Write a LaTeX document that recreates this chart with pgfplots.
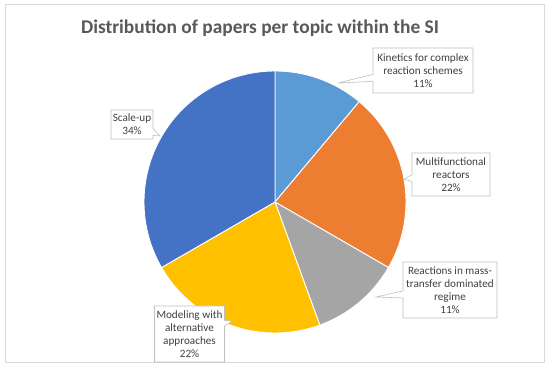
\documentclass[border=0pt]{standalone}
\usepackage{fontspec}
\setmainfont{Carlito}
\usepackage{pgfplots}
\usepackage{pgfplotstable}
\pgfplotsset{compat=1.18}
\usetikzlibrary{shapes.callouts}
\definecolor{cKin}{HTML}{5B9BD5}
\definecolor{cMul}{HTML}{ED7D31}
\definecolor{cRea}{HTML}{A5A5A5}
\definecolor{cMod}{HTML}{FFC000}
\definecolor{cSca}{HTML}{4472C4}
\definecolor{txt}{HTML}{404040}
\definecolor{ttl}{HTML}{595959}
\definecolor{frm}{HTML}{D9D9D9}
\definecolor{box}{HTML}{BFBFBF}

\tikzset{
  sector/.style={draw=white, line width=0.9pt, samples=90},
  lbl/.style={rectangle callout, draw=box, fill=white, line width=0.6pt,
    text=txt, font=\fontsize{11.2}{13.2}\selectfont, align=center,
    inner sep=1pt, callout pointer width=7pt}}

\pgfplotstableread{
topic count
Kinetics 1
Multifunctional 2
Reactions 1
Modeling 2
Scaleup 3
}\piedata
\pgfplotstablegetelem{0}{count}\of\piedata\let\vA\pgfplotsretval
\pgfplotstablegetelem{1}{count}\of\piedata\let\vB\pgfplotsretval
\pgfplotstablegetelem{2}{count}\of\piedata\let\vC\pgfplotsretval
\pgfplotstablegetelem{3}{count}\of\piedata\let\vD\pgfplotsretval
\pgfplotstablegetelem{4}{count}\of\piedata\let\vE\pgfplotsretval
\pgfmathsetmacro\tot{\vA+\vB+\vC+\vD+\vE}
\pgfmathsetmacro\aA{90}
\pgfmathsetmacro\aB{\aA-360*\vA/\tot}
\pgfmathsetmacro\aC{\aB-360*\vB/\tot}
\pgfmathsetmacro\aD{\aC-360*\vC/\tot}
\pgfmathsetmacro\aE{\aD-360*\vD/\tot}
\pgfmathsetmacro\aF{\aE-360*\vE/\tot}

\begin{document}
\begin{tikzpicture}
\fill[white] (0,0) rectangle (550pt,369pt);
\draw[frm, line width=1pt] (5pt,6pt) rectangle (544pt,364pt);
\begin{axis}[at={(0,0)}, anchor=south west, scale only axis,
  width=550pt, height=369pt, xmin=0, xmax=550, ymin=0, ymax=369,
  hide axis, clip=false]
\addplot[sector, fill=cKin, domain=\aB:\aA] ({275+131*cos(x)},{167+131*sin(x)}) -- (axis cs:275,167) -- cycle;
\addplot[sector, fill=cMul, domain=\aC:\aB] ({275+131*cos(x)},{167+131*sin(x)}) -- (axis cs:275,167) -- cycle;
\addplot[sector, fill=cRea, domain=\aD:\aC] ({275+131*cos(x)},{167+131*sin(x)}) -- (axis cs:275,167) -- cycle;
\addplot[sector, fill=cMod, domain=\aE:\aD] ({275+131*cos(x)},{167+131*sin(x)}) -- (axis cs:275,167) -- cycle;
\addplot[sector, fill=cSca, domain=\aF:\aE] ({275+131*cos(x)},{167+131*sin(x)}) -- (axis cs:275,167) -- cycle;

\node[font=\bfseries\fontsize{19.4}{23}\selectfont, text=ttl] at (axis cs:260,341) {Distribution of papers per topic within the SI};

\node[lbl, minimum width=100pt, minimum height=45pt, callout absolute pointer={(axis cs:338,286)}] at (axis cs:423,298.5) {Kinetics for complex\\reaction schemes\\11\%};
\node[lbl, minimum width=78pt, minimum height=43pt, callout absolute pointer={(axis cs:404,190)}] at (axis cs:451,194.5) {Multifunctional\\reactors\\22\%};
\node[lbl, minimum width=94pt, minimum height=56pt, callout absolute pointer={(axis cs:376,72)}] at (axis cs:450,79) {Reactions in mass-\\transfer dominated\\regime\\11\%};
\node[lbl, minimum width=42pt, minimum height=29pt, callout absolute pointer={(axis cs:160,233)}] at (axis cs:132,244.5) {Scale-up\\34\%};
\node[lbl, minimum width=70pt, minimum height=56pt, callout absolute pointer={(axis cs:232,48)}, callout pointer width=6pt] at (axis cs:189.5,35) {Modeling with\\alternative\\approaches\\22\%};
\end{axis}
\end{tikzpicture}
\end{document}
